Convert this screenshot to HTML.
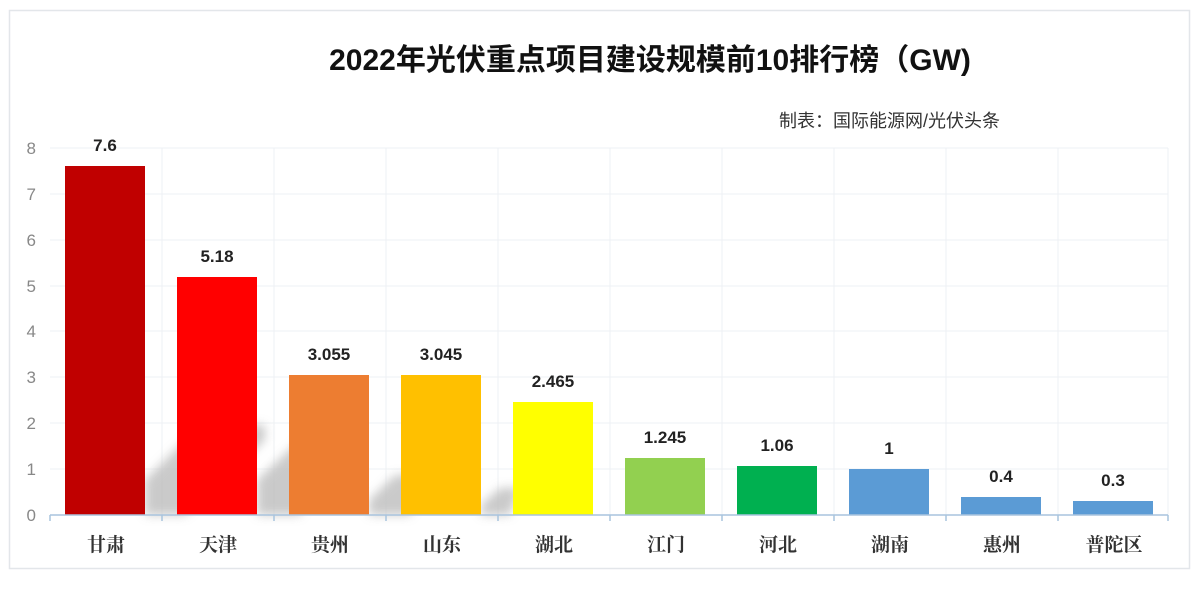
<!DOCTYPE html>
<html><head><meta charset="utf-8"><style>
html,body{margin:0;padding:0;background:#fff;}
body{width:1200px;height:591px;overflow:hidden;}
</style></head><body>
<svg width="1200" height="591" viewBox="0 0 1200 591" xmlns="http://www.w3.org/2000/svg" font-family="Liberation Sans, Noto Sans CJK SC, sans-serif">
<defs><filter id="b" x="-20%" y="-20%" width="140%" height="140%"><feGaussianBlur stdDeviation="5"/></filter></defs>
<rect x="9.5" y="10.5" width="1180" height="558" fill="#fff" stroke="#e3e6ea" stroke-width="1.5"/>
<text x="650" y="70" text-anchor="middle" font-size="30" font-weight="bold" fill="#111">2022年光伏重点项目建设规模前10排行榜（GW)</text>
<text x="1000" y="127" text-anchor="end" font-size="18" fill="#333">制表：国际能源网/光伏头条</text>
<g stroke="#eef1f4" stroke-width="1">
<line x1="50" y1="148" x2="1168" y2="148"/><line x1="50" y1="194" x2="1168" y2="194"/><line x1="50" y1="240" x2="1168" y2="240"/><line x1="50" y1="286" x2="1168" y2="286"/><line x1="50" y1="331" x2="1168" y2="331"/><line x1="50" y1="377" x2="1168" y2="377"/><line x1="50" y1="423" x2="1168" y2="423"/><line x1="50" y1="469" x2="1168" y2="469"/>
<line x1="162" y1="148" x2="162" y2="515"/><line x1="274" y1="148" x2="274" y2="515"/><line x1="386" y1="148" x2="386" y2="515"/><line x1="498" y1="148" x2="498" y2="515"/><line x1="610" y1="148" x2="610" y2="515"/><line x1="722" y1="148" x2="722" y2="515"/><line x1="834" y1="148" x2="834" y2="515"/><line x1="946" y1="148" x2="946" y2="515"/><line x1="1058" y1="148" x2="1058" y2="515"/><line x1="1168" y1="148" x2="1168" y2="515"/>
</g>
<g fill="#bdbdbd" opacity="0.8" filter="url(#b)">
<polygon points="145,515 145,480 200,425 265,425 265,440 185,515"/>
<polygon points="257,515 257,480 300,440 330,440 300,515"/>
<polygon points="369,515 369,500 395,475 430,475 410,515"/>
<polygon points="481,515 481,505 500,488 520,488 510,515"/>
</g>
<g font-size="17" fill="#888" text-anchor="end">
<text x="36" y="154">8</text><text x="36" y="200">7</text><text x="36" y="246">6</text><text x="36" y="292">5</text><text x="36" y="337">4</text><text x="36" y="383">3</text><text x="36" y="429">2</text><text x="36" y="475">1</text><text x="36" y="521">0</text>
</g>
<g>
<rect x="65" y="166" width="80" height="349" fill="#c00000"/>
<rect x="177" y="277" width="80" height="238" fill="#ff0000"/>
<rect x="289" y="375" width="80" height="140" fill="#ed7d31"/>
<rect x="401" y="375" width="80" height="140" fill="#ffc000"/>
<rect x="513" y="402" width="80" height="113" fill="#ffff00"/>
<rect x="625" y="458" width="80" height="57" fill="#92d050"/>
<rect x="737" y="466" width="80" height="49" fill="#00b050"/>
<rect x="849" y="469" width="80" height="46" fill="#5b9bd5"/>
<rect x="961" y="497" width="80" height="18" fill="#5b9bd5"/>
<rect x="1073" y="501" width="80" height="14" fill="#5b9bd5"/>
</g>
<g font-size="17" font-weight="bold" fill="#222" text-anchor="middle">
<text x="105" y="151">7.6</text><text x="217" y="262">5.18</text><text x="329" y="360">3.055</text><text x="441" y="360">3.045</text><text x="553" y="387">2.465</text><text x="665" y="443">1.245</text><text x="777" y="451">1.06</text><text x="889" y="454">1</text><text x="1001" y="482">0.4</text><text x="1113" y="486">0.3</text>
</g>
<line x1="50" y1="515" x2="1168" y2="515" stroke="#a9c4de" stroke-width="1.5"/>
<g stroke="#a9c4de" stroke-width="1.5">
<line x1="50" y1="515" x2="50" y2="521"/><line x1="162" y1="515" x2="162" y2="521"/><line x1="274" y1="515" x2="274" y2="521"/><line x1="386" y1="515" x2="386" y2="521"/><line x1="498" y1="515" x2="498" y2="521"/><line x1="610" y1="515" x2="610" y2="521"/><line x1="722" y1="515" x2="722" y2="521"/><line x1="834" y1="515" x2="834" y2="521"/><line x1="946" y1="515" x2="946" y2="521"/><line x1="1058" y1="515" x2="1058" y2="521"/><line x1="1168" y1="515" x2="1168" y2="521"/>
</g>
<g font-size="19" font-weight="bold" fill="#333" text-anchor="middle" font-family="Liberation Serif, Noto Serif CJK SC, serif">
<text x="106" y="551">甘肃</text><text x="218" y="551">天津</text><text x="330" y="551">贵州</text><text x="442" y="551">山东</text><text x="554" y="551">湖北</text><text x="666" y="551">江门</text><text x="778" y="551">河北</text><text x="890" y="551">湖南</text><text x="1002" y="551">惠州</text><text x="1114" y="551">普陀区</text>
</g>
</svg>
</body></html>
